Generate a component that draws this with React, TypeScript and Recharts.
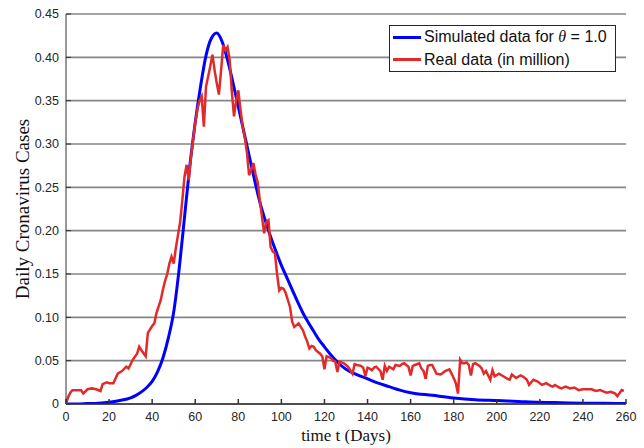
import { LineChart, Line, XAxis, YAxis, CartesianGrid, Legend } from "recharts";

const xTicks = [0, 20, 40, 60, 80, 100, 120, 140, 160, 180, 200, 220, 240, 260];
const yTicks = [0, 0.05, 0.1, 0.15, 0.2, 0.25, 0.3, 0.35, 0.4, 0.45];

// simulated curve (theta = 1.0)
const simDays = [0, 5, 10, 15, 20, 25, 30, 32.5, 35, 37.5, 40, 42.5, 45, 47.5, 50, 52.5, 55, 57.5, 60, 62.5, 65, 67.5, 70, 72.5, 75, 77.5, 80, 82.5, 85, 87.5, 90, 92.5, 95, 97.5, 100, 102.5, 105, 107.5, 110, 112.5, 115, 117.5, 120, 122.5, 125, 127.5, 130, 135, 140, 145, 150, 155, 160, 170, 180, 190, 200, 210, 220, 230, 240, 250, 260];
const simCases = [0, 0, 0.0005, 0.001, 0.002, 0.004, 0.007, 0.01, 0.014, 0.019, 0.026, 0.037, 0.053, 0.076, 0.106, 0.155, 0.215, 0.275, 0.325, 0.367, 0.402, 0.422, 0.428, 0.418, 0.397, 0.371, 0.343, 0.315, 0.287, 0.259, 0.233, 0.212, 0.193, 0.176, 0.16, 0.146, 0.132, 0.118, 0.105, 0.094, 0.084, 0.074, 0.066, 0.058, 0.051, 0.045, 0.04, 0.034, 0.029, 0.024, 0.02, 0.016, 0.013, 0.01, 0.007, 0.005, 0.004, 0.003, 0.002, 0.0015, 0.001, 0.0008, 0.0006];

// real daily cases (in million)
const realDays = [0, 1, 2, 3, 5, 7, 8, 10, 12, 14, 16, 17, 19, 20, 22, 24, 26, 28, 29, 31, 33, 34, 35, 37, 38, 40, 41, 42, 44, 45, 46, 47, 48, 49, 50, 51, 52, 53, 54, 55, 56, 57, 58, 59, 60, 61, 62, 63, 64, 65, 66, 67, 68, 69, 70, 71, 72, 73, 74, 75, 76, 77, 78, 79, 80, 81, 82, 83, 84, 85, 86, 87, 88, 89, 90, 91, 92, 93, 94, 95, 96, 97, 98, 99, 100, 101, 102, 103, 104, 105, 106, 107, 108, 109, 110, 111, 112, 113, 114, 115, 116, 117, 118, 119, 120, 121, 122, 123, 124, 125, 126, 127, 128, 129, 130, 131, 133, 134, 135, 137, 138, 139, 140, 141, 142, 143, 144, 146, 147, 148, 149, 150, 152, 153, 155, 156, 157, 159, 160, 161, 162, 164, 165, 166, 167, 168, 169, 170, 172, 174, 175, 176, 178, 179, 180, 181, 182, 183, 184, 185, 186, 187, 188, 189, 190, 192, 193, 194, 195, 197, 198, 199, 201, 203, 205, 206, 207, 209, 211, 212, 214, 215, 217, 219, 221, 223, 225, 226, 227, 229, 230, 232, 234, 236, 238, 240, 242, 244, 246, 248, 250, 251, 253, 254, 255, 256, 258, 259];
const realCases = [0, 0.008, 0.013, 0.016, 0.016, 0.016, 0.012, 0.017, 0.018, 0.017, 0.015, 0.023, 0.025, 0.024, 0.024, 0.035, 0.038, 0.043, 0.041, 0.051, 0.058, 0.066, 0.062, 0.055, 0.082, 0.09, 0.093, 0.105, 0.12, 0.132, 0.142, 0.15, 0.162, 0.17, 0.162, 0.18, 0.195, 0.21, 0.235, 0.262, 0.276, 0.258, 0.285, 0.305, 0.325, 0.34, 0.35, 0.355, 0.32, 0.366, 0.378, 0.39, 0.403, 0.385, 0.37, 0.357, 0.385, 0.414, 0.408, 0.412, 0.397, 0.36, 0.332, 0.35, 0.362, 0.34, 0.32, 0.308, 0.29, 0.264, 0.27, 0.278, 0.265, 0.256, 0.235, 0.216, 0.197, 0.21, 0.212, 0.181, 0.176, 0.174, 0.15, 0.131, 0.134, 0.133, 0.128, 0.12, 0.112, 0.095, 0.089, 0.091, 0.093, 0.089, 0.085, 0.078, 0.072, 0.064, 0.067, 0.066, 0.062, 0.06, 0.058, 0.055, 0.04, 0.055, 0.054, 0.053, 0.05, 0.049, 0.037, 0.049, 0.048, 0.047, 0.045, 0.043, 0.035, 0.046, 0.045, 0.044, 0.042, 0.032, 0.042, 0.041, 0.039, 0.042, 0.043, 0.038, 0.028, 0.044, 0.038, 0.043, 0.04, 0.045, 0.044, 0.046, 0.047, 0.043, 0.033, 0.044, 0.045, 0.047, 0.041, 0.038, 0.029, 0.044, 0.045, 0.045, 0.035, 0.034, 0.036, 0.038, 0.04, 0.035, 0.03, 0.024, 0.012, 0.051, 0.047, 0.047, 0.048, 0.045, 0.033, 0.046, 0.047, 0.044, 0.041, 0.035, 0.038, 0.028, 0.039, 0.032, 0.035, 0.032, 0.029, 0.028, 0.034, 0.03, 0.033, 0.032, 0.028, 0.022, 0.028, 0.026, 0.022, 0.024, 0.021, 0.02, 0.022, 0.019, 0.018, 0.02, 0.018, 0.019, 0.016, 0.017, 0.017, 0.017, 0.015, 0.016, 0.014, 0.013, 0.014, 0.013, 0.012, 0.009, 0.016, 0.015];

const simData = simDays.map((d, i) => ({ day: d, value: simCases[i] }));
const realData = realDays.map((d, i) => ({ day: d, value: realCases[i] }));

const tickFont = { fill: "#262626", fontSize: 12.5, fontFamily: "Liberation Sans, Arial, sans-serif" };
const axisColor = "#333";

function LegendBox() {
  const row = { display: "flex", alignItems: "center", height: 22.5 };
  const text = { fontFamily: "Liberation Sans, Arial, sans-serif", fontSize: 16, color: "#111", whiteSpace: "nowrap" as const };
  return (
    <div style={{ width: 227, height: 47, boxSizing: "border-box", border: "1px solid #262626", background: "#fff", paddingLeft: 3 }}>
      <div style={row}>
        <div style={{ width: 28, height: 3, background: "#0000ff", marginRight: 3 }} />
        <span style={text}>
          Simulated data for <span style={{ fontFamily: "Liberation Serif, serif", fontStyle: "italic" }}>θ</span> = 1.0
        </span>
      </div>
      <div style={row}>
        <div style={{ width: 28, height: 3, background: "#e22a2a", marginRight: 3 }} />
        <span style={text}>Real data (in million)</span>
      </div>
    </div>
  );
}

export default function App() {
  return (
    <div style={{ position: "absolute", left: 0, top: 0, background: "#fff" }}>
      <LineChart width={644} height={448} margin={{ top: 14, right: 18, bottom: 0, left: 0 }}>
        <CartesianGrid vertical={false} stroke="#858585" strokeWidth={1.7} />
        <XAxis
          dataKey="day"
          type="number"
          domain={[0, 260]}
          ticks={xTicks}
          height={44}
          tick={tickFont}
          tickSize={-5}
          tickMargin={13}
          stroke={axisColor}
          strokeWidth={1.5}
          allowDataOverflow
          label={{
            value: "time t (Days)",
            position: "insideBottom",
            offset: 7,
            style: { fontFamily: "Liberation Serif, serif", fontSize: 17, fill: "#111" },
          }}
        />
        <XAxis xAxisId="top" orientation="top" dataKey="day" type="number" domain={[0, 260]} ticks={xTicks} height={0} tick={false} tickSize={-5} stroke={axisColor} />
        <YAxis
          type="number"
          domain={[0, 0.45]}
          ticks={yTicks}
          width={66}
          tick={tickFont}
          tickSize={-5}
          tickMargin={12}
          stroke={axisColor}
          allowDataOverflow
          tickFormatter={(v: number) => (v === 0 ? "0" : v.toFixed(2))}
          label={{
            value: "Daily Cronavirus Cases",
            angle: -90,
            position: "insideLeft",
            offset: 22,
            style: { textAnchor: "middle", fontFamily: "Liberation Serif, serif", fontSize: 19, fill: "#111" },
          }}
        />
        <YAxis yAxisId="right" orientation="right" type="number" domain={[0, 0.45]} ticks={yTicks} width={0} tick={false} tickSize={-5} stroke={axisColor} />
        <Legend
          layout="vertical"
          align="center"
          verticalAlign="middle"
          content={() => <LegendBox />}
          wrapperStyle={{ left: 389, top: 25, width: 227, height: 47 }}
        />
        <Line data={simData} dataKey="value" type="monotone" stroke="#0000ff" strokeWidth={3} dot={false} isAnimationActive={false} />
        <Line data={realData} dataKey="value" type="linear" stroke="#e22a2a" strokeWidth={2.5} dot={false} isAnimationActive={false} />
      </LineChart>
    </div>
  );
}
